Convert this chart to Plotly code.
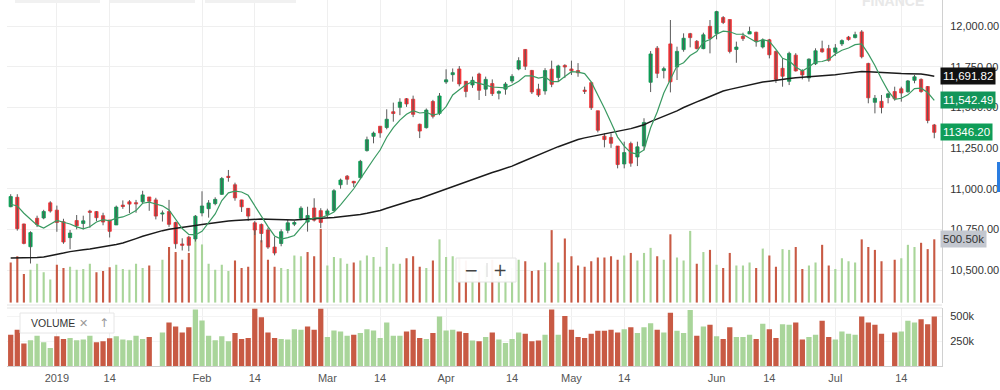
import pandas as pd
import plotly.graph_objects as go

# ---------------- data ----------------
holidays = ["2018-12-25", "2019-03-04", "2019-03-21", "2019-04-17", "2019-04-19",
            "2019-04-29", "2019-05-01", "2019-06-05"]
missing_days = ["2019-01-01", "2019-02-13", "2019-03-29", "2019-06-19"]
dates = [d.strftime("%Y-%m-%d") for d in pd.bdate_range("2018-12-20", "2019-07-22")
         if d.strftime("%Y-%m-%d") not in holidays + missing_days]

opens = [10889, 10947, 10783, 10643, 10818, 10820, 10913, 10868, 10797, 10699,
         10804, 10786, 10862, 10859, 10834, 10807, 10777, 10899, 10919, 10914,
         10919, 10949, 10931, 10844, 10859, 10792, 10660, 10702, 10691, 10851,
         10877, 10908, 10965, 11076, 11024, 10931, 10879, 10790, 10780, 10746,
         10641, 10663, 10744, 10782, 10818, 10795, 10881, 10865, 10842, 10865,
         11024, 11077, 11045, 11068, 11234, 11322, 11384, 11376, 11473, 11500,
         11553, 11550, 11396, 11375, 11536, 11463, 11656, 11701, 11736, 11660,
         11638, 11705, 11612, 11646, 11587, 11612, 11662, 11736, 11856, 11727,
         11612, 11601, 11735, 11683, 11758, 11736, 11726, 11606, 11652, 11479,
         11323, 11315, 11262, 11152, 11277, 11195, 11262, 11654, 11864, 11726,
         11890, 11748, 11855, 11953, 11906, 11861, 11998, 11954, 12052, 12040,
         11856, 11937, 11951, 11962, 11871, 11915, 11844, 11740, 11660, 11821,
         11725, 11681, 11768, 11860, 11861, 11839, 11890, 11932, 11929, 11964,
         11770, 11531, 11537, 11561, 11597, 11614, 11596, 11666, 11672, 11628,
         11392]
highs = [10966, 10966, 10785, 10738, 10834, 10870, 10923, 10896, 10815, 10746,
         10838, 10834, 10870, 10862, 10852, 10808, 10896, 10928, 10930, 10931,
         10987, 10949, 10944, 10866, 10931, 10797, 10695, 10710, 10838, 10984,
         10930, 10947, 11072, 11115, 11037, 10932, 10880, 10801, 10786, 10760,
         10705, 10750, 10808, 10801, 10892, 10889, 10941, 10880, 10877, 10997,
         11062, 11084, 11048, 11177, 11320, 11351, 11384, 11488, 11529, 11556,
         11557, 11572, 11400, 11493, 11546, 11588, 11734, 11739, 11754, 11662,
         11689, 11713, 11689, 11672, 11605, 11655, 11704, 11808, 11857, 11730,
         11645, 11741, 11787, 11762, 11765, 11787, 11772, 11627, 11657, 11479,
         11340, 11340, 11262, 11289, 11289, 11289, 11433, 11846, 11877, 11750,
         12037, 11873, 11955, 11958, 11914, 11959, 12037, 12094, 12061, 12040,
         11904, 11959, 11996, 11965, 11924, 11921, 11849, 11803, 11842, 11833,
         11734, 11801, 11863, 11910, 11884, 11889, 11918, 11939, 11965, 11975,
         11774, 11576, 11576, 11590, 11627, 11627, 11668, 11699, 11678, 11631,
         11398]
lows = [10886, 10742, 10658, 10540, 10764, 10812, 10853, 10735, 10661, 10628,
        10750, 10750, 10760, 10801, 10775, 10700, 10777, 10876, 10850, 10852,
        10907, 10864, 10811, 10798, 10765, 10631, 10620, 10615, 10675, 10830,
        10822, 10898, 10962, 11043, 10926, 10857, 10802, 10715, 10670, 10630,
        10590, 10646, 10726, 10770, 10805, 10736, 10798, 10758, 10823, 10860,
        11000, 11024, 11010, 11064, 11228, 11279, 11313, 11365, 11412, 11452,
        11503, 11440, 11311, 11370, 11432, 11452, 11644, 11658, 11629, 11562,
        11620, 11545, 11570, 11570, 11549, 11578, 11649, 11728, 11730, 11582,
        11564, 11578, 11624, 11657, 11680, 11699, 11688, 11582, 11484, 11346,
        11254, 11251, 11125, 11125, 11135, 11139, 11236, 11594, 11680, 11678,
        11592, 11668, 11842, 11869, 11857, 11857, 11832, 11918, 12012, 11832,
        11774, 11908, 11951, 11873, 11862, 11801, 11650, 11627, 11637, 11720,
        11672, 11658, 11760, 11836, 11781, 11816, 11877, 11910, 11924, 11801,
        11525, 11463, 11463, 11525, 11541, 11535, 11590, 11648, 11590, 11402,
        11310]
closes = [10951.7, 10754.0, 10663.5, 10729.85, 10779.8, 10859.9, 10862.55, 10792.5, 10672.25, 10727.35,
          10771.8, 10802.15, 10855.15, 10821.6, 10794.95, 10737.6, 10886.8, 10890.3, 10905.2, 10906.95,
          10961.85, 10922.75, 10831.5, 10849.8, 10780.55, 10661.55, 10652.2, 10651.8, 10830.95, 10893.65,
          10912.25, 10934.35, 11062.45, 11069.4, 10943.6, 10888.8, 10831.4, 10746.05, 10724.4, 10640.95,
          10604.35, 10735.45, 10789.85, 10791.65, 10880.1, 10835.3, 10806.65, 10792.5, 10863.5, 10987.45,
          11053.0, 11058.2, 11035.4, 11168.05, 11301.2, 11341.7, 11343.25, 11426.85, 11462.2, 11532.4,
          11521.05, 11456.9, 11354.25, 11483.25, 11445.05, 11570.0, 11669.15, 11713.2, 11643.95, 11598.0,
          11665.95, 11604.5, 11671.95, 11584.3, 11596.7, 11643.45, 11690.35, 11787.15, 11752.8, 11594.45,
          11575.95, 11726.15, 11641.8, 11754.65, 11748.15, 11724.75, 11712.25, 11598.25, 11497.9, 11359.45,
          11301.8, 11278.9, 11148.2, 11222.05, 11157.0, 11257.1, 11407.15, 11828.25, 11709.1, 11737.9,
          11657.05, 11844.1, 11924.75, 11928.75, 11861.1, 11945.9, 11922.8, 12088.55, 12021.65, 11843.75,
          11870.65, 11922.7, 11965.6, 11906.2, 11914.05, 11823.3, 11672.15, 11691.45, 11831.75, 11724.1,
          11699.65, 11796.45, 11847.55, 11841.55, 11788.85, 11865.6, 11910.3, 11916.75, 11946.75, 11811.15,
          11558.6, 11555.9, 11498.9, 11582.9, 11552.5, 11588.35, 11662.6, 11687.5, 11596.9, 11419.25,
          11346.2]
volume_k = [317, 367, 227, 260, 307, 240, 183, 300, 273, 283,
            260, 267, 307, 240, 250, 280, 300, 267, 260, 307,
            273, 293, None, 340, 440, 400, 340, 393, 573, 460,
            307, 260, 300, 250, 333, 273, 283, 583, 493, 340,
            283, 273, 267, 373, 367, 400, 367, 583, 293, 360,
            350, 307, 317, 333, 373, 360, 283, 440, 307, 307,
            350, 367, 283, 273, 333, 500, 360, 367, 350, 333,
            257, 250, 293, 340, 267, 233, 273, 340, 327, 250,
            257, 317, 573, 317, 507, 367, 293, 283, 327, 357,
            357, 367, 340, 373, 393, 333, 393, 433, 367, 340,
            540, 357, 333, 567, 307, 400, 417, 300, 273, 393,
            293, 293, 317, 273, 427, 373, 283, 423, 417, 440,
            267, 293, 317, 457, 293, 267, 350, 327, 317, 500,
            440, 417, 327, None, 340, 350, 457, 440, 473, 423,
            500.5]
prior_closes = [10805.45, 10888.35, 10908.7, 10967.3]   # closes before the first candle (for the 5-day average)
ma55_head = [10574, 10574, 10574, 10575, 10577, 10580, 10587, 10595, 10604, 10613,
             10620, 10624, 10629, 10635, 10641, 10648, 10657, 10666, 10678, 10693,
             10707, 10720, 10731, 10742, 10750, 10757, 10763, 10769, 10774, 10780,
             10786, 10792, 10797, 10801, 10805, 10808, 10811, 10813, 10813, 10812,
             10810, 10808, 10807, 10808, 10810, 10812, 10814, 10816, 10819, 10823,
             10827, 10831, 10836, 10841]

tick_dates = ["2019-01-02", "2019-01-14", "2019-02-01", "2019-02-14", "2019-03-01", "2019-03-14",
              "2019-04-01", "2019-04-15", "2019-05-02", "2019-05-14", "2019-06-03", "2019-06-14",
              "2019-07-01", "2019-07-15"]
tick_text = ["2019", "14", "Feb", "14", "Mar", "14", "Apr", "14", "May", "14", "Jun", "14", "Jul", "14"]
price_ticks = [10500, 10750, 11000, 11250, 11500, 11750, 12000]
volume_ticks = [250, 500]
volume_tick_text = ["250k", "500k"]

# ---------------- styles ----------------
UP = "#0c9e55"
DN = "#f23236"
VOL_UP = "#a9d59a"
VOL_DN = "#c85a44"
WICK = "#5a5a5a"
MA_FAST = "#3a9a62"
MA_SLOW = "#1b1b1b"
GRID = "#efefef"
FONT = "Liberation Sans, Arial, sans-serif"

# ---------------- derived ----------------
n = len(closes)
all_closes = prior_closes + closes
ma5 = [sum(all_closes[i:i + 5]) / 5 for i in range(n)]
ma55 = [ma55_head[i] if i < len(ma55_head) else sum(closes[i - 54:i + 1]) / 55 for i in range(n)]
prev_close = prior_closes[-1:] + closes[:-1]
vol_colors = [VOL_UP if c >= p else VOL_DN for c, p in zip(closes, prev_close)]
body_top = [max(o, c) for o, c in zip(opens, closes)]
body_bot = [min(o, c) for o, c in zip(opens, closes)]
wick_x, wick_y = [], []
for d, h, l in zip(dates, highs, lows):
    wick_x += [d, d, None]
    wick_y += [l, h, None]

# pixel -> paper helpers for decorations (plot area: x 7..942, y 0..366)
def xp(px):
    return (px - 7) / 935.0

def yp(py):
    return (366 - py) / 366.0

fig = go.Figure()
fig.add_trace(go.Bar(x=dates, y=volume_k, marker=dict(color=vol_colors, line=dict(width=0)),
                     width=0.32, xaxis="x", yaxis="y", hoverinfo="skip"))
fig.add_trace(go.Bar(x=dates, y=volume_k, marker=dict(color=vol_colors, line=dict(width=0)),
                     width=0.8, xaxis="x2", yaxis="y2", hoverinfo="skip"))
fig.add_trace(go.Scatter(x=wick_x, y=wick_y, mode="lines", line=dict(color=WICK, width=1),
                         xaxis="x", yaxis="y3", hoverinfo="skip"))
fig.add_trace(go.Candlestick(x=dates, open=opens, high=body_top, low=body_bot, close=closes,
                             increasing=dict(line=dict(color=UP, width=0.8), fillcolor=UP),
                             decreasing=dict(line=dict(color=DN, width=0.8), fillcolor=DN),
                             whiskerwidth=0, xaxis="x", yaxis="y3"))
fig.add_trace(go.Scatter(x=dates, y=ma55, mode="lines", line=dict(color=MA_SLOW, width=1.5),
                         xaxis="x", yaxis="y3"))
fig.add_trace(go.Scatter(x=dates, y=ma5, mode="lines", line=dict(color=MA_FAST, width=1.2),
                         xaxis="x", yaxis="y3"))

xcommon = dict(type="category", categoryorder="array", categoryarray=dates,
               range=[-0.56, n + 0.17], tickmode="array", tickvals=tick_dates,
               showgrid=True, gridcolor=GRID, gridwidth=1, zeroline=False, ticks="")

def label_box(text, y, yref, bg, fg):
    return dict(x=1, xref="paper", xanchor="left", xshift=-2, y=y, yref=yref, yanchor="middle",
                text=text, showarrow=False, bgcolor=bg, borderpad=2,
                font=dict(family=FONT, size=11.5, color=fg))

annotations = [
    label_box(f"{ma55[-1]:,.2f}", ma55[-1], "y3", "#111111", "white"),
    label_box(f"{ma5[-1]:,.2f}", ma5[-1], "y3", "#12955a", "white"),
    label_box(f"{closes[-1]:.2f}", closes[-1], "y3", "#0f9d58", "white"),
    label_box(f"{volume_k[-1]:.2f}k", volume_k[-1], "y", "#c3c7cf", "#333333"),
    dict(x=xp(29), y=yp(323), xref="paper", yref="paper", xanchor="left", yanchor="middle",
         text="VOLUME", showarrow=False, font=dict(family=FONT, size=10.5, color="#333")),
    dict(x=xp(83), y=yp(323), xref="paper", yref="paper", xanchor="center", yanchor="middle",
         text="\u2715", showarrow=False, font=dict(family="DejaVu Sans", size=11, color="#999")),
    dict(x=xp(104), y=yp(323), xref="paper", yref="paper", xanchor="center", yanchor="middle",
         text="\u2191", showarrow=False, font=dict(family="DejaVu Sans", size=12, color="#999")),
    dict(x=xp(471), y=yp(270), xref="paper", yref="paper", xanchor="center", yanchor="middle",
         text="\u2212", showarrow=False, font=dict(family="DejaVu Sans", size=17, color="#444")),
    dict(x=xp(500), y=yp(270), xref="paper", yref="paper", xanchor="center", yanchor="middle",
         text="+", showarrow=False, font=dict(family="DejaVu Sans", size=17, color="#444")),
    dict(x=xp(893), y=yp(1), xref="paper", yref="paper", xanchor="center", yanchor="middle",
         text="<b>FINANCE</b>", showarrow=False, font=dict(family=FONT, size=14, color="#e8e8e8")),
]

shapes = [
    # panel separator
    dict(type="line", xref="paper", yref="paper", x0=0, x1=1, y0=yp(305), y1=yp(305),
         line=dict(color="#e2e2e2", width=1)),
    dict(type="line", xref="paper", yref="paper", x0=0, x1=1, y0=yp(308), y1=yp(308),
         line=dict(color="#e2e2e2", width=1)),
    # zoom control
    dict(type="rect", xref="paper", yref="paper", x0=xp(456), x1=xp(516), y0=yp(282), y1=yp(258),
         fillcolor="rgba(255,255,255,0.95)", line=dict(color="#e4e4e4", width=1)),
    dict(type="line", xref="paper", yref="paper", x0=xp(487), x1=xp(487), y0=yp(277), y1=yp(263),
         line=dict(color="#d6d6d6", width=1)),
    # volume legend box
    dict(type="rect", xref="paper", yref="paper", x0=xp(20), x1=xp(114), y0=yp(333), y1=yp(313),
         fillcolor="white", line=dict(color="#e6e6e6", width=1)),
    # top cards shadow
    dict(type="rect", xref="paper", yref="paper", x0=xp(15), x1=xp(100), y0=yp(3), y1=yp(-2),
         fillcolor="#f1f1f1", line=dict(width=0)),
    dict(type="rect", xref="paper", yref="paper", x0=xp(110), x1=xp(195), y0=yp(3), y1=yp(-2),
         fillcolor="#f1f1f1", line=dict(width=0)),
    dict(type="rect", xref="paper", yref="paper", x0=xp(205), x1=xp(296), y0=yp(3), y1=yp(-2),
         fillcolor="#f1f1f1", line=dict(width=0)),
    # blue scroll marker
    dict(type="rect", xref="paper", yref="paper", x0=xp(997), x1=xp(1001), y0=yp(192), y1=yp(162),
         fillcolor="#2a7de1", line=dict(width=0)),
]

fig.update_layout(
    width=1000, height=390,
    margin=dict(l=7, r=58, t=0, b=24),
    paper_bgcolor="white", plot_bgcolor="white",
    showlegend=False, barmode="overlay", hovermode=False,
    font=dict(family=FONT, size=11, color="#333"),
    xaxis=dict(domain=[0, 1], anchor="y", showticklabels=False,
               rangeslider=dict(visible=False), **xcommon),
    xaxis2=dict(domain=[0, 1], anchor="y2", matches="x", ticktext=tick_text,
                showline=True, linecolor="#cfcfcf", ticklabelstandoff=2,
                tickfont=dict(family=FONT, size=11, color="#555"), **xcommon),
    yaxis=dict(domain=[(366 - 302.7) / 366, 1], range=[0, 2390], showticklabels=False,
               showgrid=False, zeroline=False, ticks=""),
    yaxis3=dict(overlaying="y", anchor="x", side="right", range=[10299, 12160],
                tickmode="array", tickvals=price_ticks, tickformat=",.2f",
                showgrid=True, gridcolor=GRID, zeroline=False, showline=True,
                linecolor="#d0d0d0", ticks="", ticklabelstandoff=5,
                tickfont=dict(family=FONT, size=11, color="#333")),
    yaxis2=dict(domain=[0, (366 - 307.7) / 366], anchor="x2", side="right", range=[0, 590],
                tickmode="array", tickvals=volume_ticks, ticktext=volume_tick_text,
                showgrid=True, gridcolor="#f4f4f4", zeroline=False, showline=True,
                linecolor="#d0d0d0", ticks="", ticklabelstandoff=5,
                tickfont=dict(family=FONT, size=11, color="#333")),
    annotations=annotations,
    shapes=shapes,
)

fig.write_html("out.html", config={"displayModeBar": False, "staticPlot": True},
               post_script="document.body.style.margin='0';document.body.style.padding='0';")
